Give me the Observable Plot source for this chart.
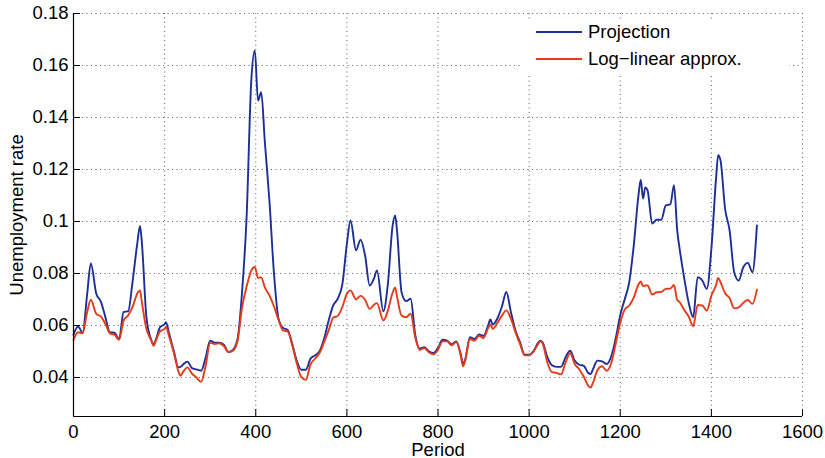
<!DOCTYPE html>
<html>
<head>
<meta charset="utf-8">
<script src="https://cdn.jsdelivr.net/npm/d3@7"></script>
<script src="https://cdn.jsdelivr.net/npm/@observablehq/plot@0.6"></script>
<style>
  html, body { margin: 0; padding: 0; background: #fff; }
  #wrap { position: relative; width: 825px; height: 458px; }
  #legend { position: absolute; left: 522px; top: 21px; width: 267px; height: 53px; background: #fff;
            font-family: "Liberation Sans", Arial, sans-serif; font-size: 18.5px; color: #000; }
  #legend .row { position: absolute; left: 0; height: 20px; display: flex; align-items: center; }
  #legend .sw { width: 46px; height: 2px; margin-left: 14px; margin-right: 6px; }
</style>
</head>
<body>
<div id="wrap"><div id="chart"></div>
<div id="legend"></div></div>
<script>
const periods = [0,10,20,30,38,50,60,70,80,90,100,110,120,130,140,146,150,160,170,176,180,190,200,203,210,220,230,235,240,250,260,270,280,290,300,310,320,330,340,350,360,370,380,390,398,405,412,420,430,440,450,460,470,480,490,500,510,520,530,540,550,560,570,580,590,600,608,620,630,640,650,660,666,680,690,700,706,710,720,730,740,750,760,770,780,790,800,810,820,830,840,850,855,860,870,880,890,900,910,915,920,930,940,950,960,970,980,990,1000,1010,1020,1025,1030,1040,1050,1060,1070,1080,1090,1100,1110,1120,1130,1135,1140,1150,1160,1170,1180,1190,1200,1210,1220,1230,1240,1245,1250,1255,1260,1270,1280,1290,1300,1310,1318,1325,1330,1340,1350,1360,1370,1380,1390,1400,1410,1415,1420,1430,1440,1450,1460,1470,1480,1490,1500];

const projection = [0.0565,0.0596,0.0572,0.0721,0.0839,0.0722,0.0692,0.0632,0.0574,0.0572,0.0548,0.0652,0.0655,0.0774,0.0916,0.0983,0.0920,0.0632,0.0548,0.0528,0.0542,0.0594,0.0605,0.0613,0.0568,0.0503,0.0440,0.0441,0.0449,0.0461,0.0436,0.0431,0.0426,0.0477,0.0542,0.0534,0.0534,0.0526,0.0498,0.0506,0.0548,0.0730,0.1020,0.1535,0.1658,0.1465,0.1497,0.1305,0.1080,0.0800,0.0626,0.0591,0.0583,0.0530,0.0465,0.0430,0.0430,0.0472,0.0485,0.0501,0.0549,0.0619,0.0677,0.0703,0.0758,0.0914,0.1004,0.0889,0.0930,0.0869,0.0754,0.0783,0.0812,0.0655,0.0760,0.0978,0.1023,0.0966,0.0728,0.0694,0.0703,0.0565,0.0511,0.0517,0.0501,0.0494,0.0514,0.0545,0.0542,0.0528,0.0539,0.0490,0.0452,0.0471,0.0555,0.0548,0.0566,0.0560,0.0600,0.0623,0.0604,0.0626,0.0671,0.0729,0.0652,0.0581,0.0536,0.0488,0.0488,0.0503,0.0534,0.0542,0.0534,0.0478,0.0447,0.0441,0.0441,0.0478,0.0503,0.0465,0.0449,0.0445,0.0417,0.0413,0.0431,0.0465,0.0462,0.0452,0.0480,0.0550,0.0640,0.0702,0.0770,0.0914,0.1101,0.1161,0.1088,0.1131,0.1120,0.0992,0.1007,0.1007,0.1062,0.1066,0.1140,0.0966,0.0899,0.0786,0.0689,0.0632,0.0786,0.0773,0.0741,0.0895,0.1159,0.1255,0.1236,0.1050,0.0966,0.0805,0.0773,0.0824,0.0841,0.0805,0.0985];

const logLinear = [0.0545,0.0574,0.0570,0.0652,0.0699,0.0645,0.0635,0.0606,0.0570,0.0565,0.0545,0.0619,0.0639,0.0674,0.0723,0.0735,0.0690,0.0587,0.0545,0.0522,0.0538,0.0578,0.0587,0.0594,0.0557,0.0497,0.0425,0.0407,0.0420,0.0439,0.0415,0.0400,0.0383,0.0445,0.0533,0.0529,0.0532,0.0521,0.0498,0.0503,0.0540,0.0670,0.0750,0.0810,0.0825,0.0783,0.0785,0.0747,0.0716,0.0673,0.0622,0.0581,0.0577,0.0525,0.0455,0.0401,0.0391,0.0450,0.0472,0.0494,0.0536,0.0581,0.0630,0.0637,0.0671,0.0722,0.0735,0.0701,0.0714,0.0699,0.0664,0.0681,0.0686,0.0619,0.0658,0.0724,0.0745,0.0712,0.0638,0.0632,0.0645,0.0555,0.0506,0.0513,0.0497,0.0489,0.0507,0.0539,0.0539,0.0524,0.0536,0.0484,0.0443,0.0467,0.0548,0.0542,0.0560,0.0552,0.0590,0.0604,0.0587,0.0609,0.0637,0.0658,0.0626,0.0574,0.0529,0.0485,0.0485,0.0500,0.0529,0.0539,0.0529,0.0458,0.0421,0.0418,0.0412,0.0458,0.0493,0.0452,0.0432,0.0403,0.0368,0.0361,0.0379,0.0428,0.0443,0.0426,0.0454,0.0530,0.0610,0.0662,0.0677,0.0709,0.0758,0.0769,0.0751,0.0754,0.0754,0.0719,0.0728,0.0729,0.0741,0.0742,0.0756,0.0698,0.0691,0.0661,0.0635,0.0597,0.0679,0.0677,0.0657,0.0715,0.0754,0.0783,0.0767,0.0724,0.0706,0.0666,0.0670,0.0687,0.0698,0.0683,0.0738];

const seriesNames = ["Projection", "Log\u2212linear approx."];
const seriesColors = ["#1d2f96", "#e63b18"];
const xTicks = [0,200,400,600,800,1000,1200,1400,1600];
const yTicks = [0.04,0.06,0.08,0.1,0.12,0.14,0.16,0.18];

const rowsP = periods.map((p, i) => ({period: p, value: projection[i]}));
const rowsL = periods.map((p, i) => ({period: p, value: logLinear[i]}));

const W = 825, H = 458, mL = 73, mR = 23, mT = 13, mB = 42;
const frameW = W - mL - mR, frameH = H - mT - mB;
const tickLen = 7;

const chart = Plot.plot({
  width: W, height: H,
  marginLeft: mL, marginRight: mR, marginTop: mT, marginBottom: mB,
  style: {fontFamily: "'Liberation Sans', Arial, sans-serif", fontSize: "18.5px", color: "#000", background: "#fff"},
  x: {domain: [0, 1600], label: null},
  y: {domain: [0.025, 0.18], label: null},
  marks: [
    Plot.gridX(xTicks, {stroke: "#444", strokeOpacity: 0.85, strokeDasharray: "1,3.5"}),
    Plot.gridY(yTicks, {stroke: "#444", strokeOpacity: 0.85, strokeDasharray: "1,3.5"}),
    Plot.line(rowsP, {x: "period", y: "value", stroke: seriesColors[0], strokeWidth: 1.9, curve: "monotone-x"}),
    Plot.line(rowsL, {x: "period", y: "value", stroke: seriesColors[1], strokeWidth: 1.9, curve: "monotone-x"}),
    Plot.ruleX(xTicks, {stroke: "#000", insetTop: frameH - tickLen}),
    Plot.ruleY(yTicks, {stroke: "#000", insetRight: frameW - tickLen}),
    Plot.ruleX([0], {stroke: "#000", strokeWidth: 1.2}),
    Plot.ruleY([0.025], {stroke: "#000", strokeWidth: 1.2}),
    Plot.axisX(xTicks, {tickSize: 0, tickPadding: 8, label: null, tickFormat: d => String(d)}),
    Plot.axisY(yTicks, {tickSize: 0, tickPadding: 5, label: null, tickFormat: d => String(+d.toFixed(2))}),
    Plot.text(["Period"], {frameAnchor: "bottom", lineAnchor: "middle", textAnchor: "middle", dy: 34, fontSize: 18.5, text: d => d}),
    Plot.text(["Unemployment rate"], {frameAnchor: "left", lineAnchor: "middle", textAnchor: "middle", dx: -56, rotate: -90, fontSize: 18.5, text: d => d})
  ]
});
document.getElementById("chart").appendChild(chart);

const legend = document.getElementById("legend");
seriesNames.forEach((name, i) => {
  const row = document.createElement("div");
  row.className = "row";
  row.style.top = (i === 0 ? 1 : 27.5) + "px";
  const sw = document.createElement("div");
  sw.className = "sw";
  sw.style.background = seriesColors[i];
  const t = document.createElement("span");
  t.textContent = name;
  row.appendChild(sw); row.appendChild(t);
  legend.appendChild(row);
});
</script>
</body>
</html>
